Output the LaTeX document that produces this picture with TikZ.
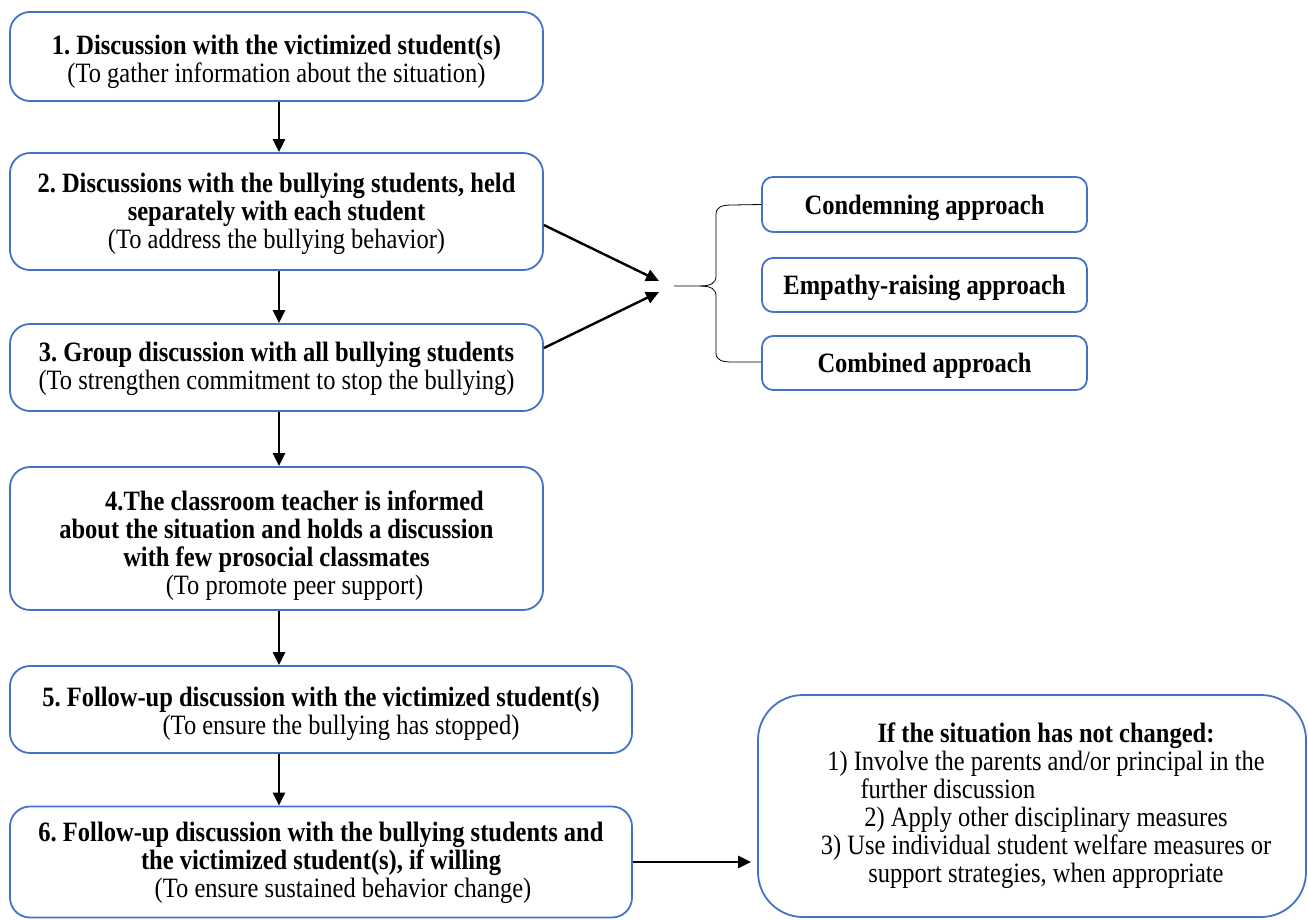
\documentclass[tikz,border=0pt]{standalone}
\usepackage{fontspec}
\setmainfont{LiberationSerif}[Extension=.ttf,UprightFont=*-Regular,BoldFont=*-Bold,ItalicFont=*-Italic,BoldItalicFont=*-BoldItalic,FakeStretch=0.875]
\usetikzlibrary{arrows.meta,calc}
\definecolor{boxblue}{RGB}{68,114,196}
\begin{document}
\frenchspacing
\begin{tikzpicture}[x=1pt,y=-1pt,
  stepbox/.style={draw=boxblue,line width=1.8pt,rounded corners=20pt,inner sep=0pt},
  steptext/.style={align=center,inner sep=0pt,font=\fontsize{28}{28}\selectfont},
  appbox/.style={draw=boxblue,line width=1.8pt,rounded corners=11pt,inner sep=0pt,minimum width=325pt},
  apptext/.style={inner sep=0pt,font=\fontsize{28}{28}\selectfont\bfseries},
  flow/.style={line width=2.4pt,-{Triangle[length=13pt,width=12pt]}},
  bracel/.style={line width=0.8pt}]
\useasboundingbox (0,0) rectangle (1308,919);
\node[stepbox,minimum width=533pt,minimum height=89pt] (b1) at (276.5,56.5) {};
\node[steptext] (t1) at ($(b1.center)+(0,5)$)
  {\textbf{1. Discussion with the victimized student(s)}\\(To gather information about the situation)};
\node[stepbox,minimum width=533pt,minimum height=117pt] (b2) at (276.5,211.5) {};
\node[steptext] (t2) at ($(b2.center)+(0,2.5)$)
  {\textbf{2. Discussions with the bullying students, held}\\\textbf{separately with each student}\\(To address the bullying behavior)};
\node[stepbox,minimum width=533pt,minimum height=87pt] (b3) at (276.5,367.5) {};
\node[steptext] (t3) at ($(b3.center)+(0,1)$)
  {\textbf{3. Group discussion with all bullying students}\\(To strengthen commitment to stop the bullying)};
\node[stepbox,minimum width=533pt,minimum height=143pt] (b4) at (276.5,538.5) {};
\node[steptext] (t4) at ($(b4.center)+(0,7)$)
  {\hspace*{36pt}\textbf{4.The classroom teacher is informed}\\\textbf{about the situation and holds a discussion}\\\textbf{with few prosocial classmates}\\\hspace*{36pt}(To promote peer support)};
\node[stepbox,minimum width=622pt,minimum height=87pt] (b5) at (321,709.5) {};
\node[steptext] (t5) at ($(b5.center)+(0,4)$)
  {\textbf{5. Follow-up discussion with the victimized student(s)}\\\hspace*{40pt}(To ensure the bullying has stopped)};
\node[stepbox,minimum width=622pt,minimum height=111pt] (b6) at (321,862) {};
\node[steptext] (t6) at ($(b6.center)+(0,1)$)
  {\textbf{6. Follow-up discussion with the bullying students and}\\\textbf{the victimized student(s), if willing}\\\hspace*{44pt}(To ensure sustained behavior change)};
\node[stepbox,rounded corners=45pt,minimum width=548pt,minimum height=222pt] (r) at (1032,806) {};
\node[steptext] (tr) at (r.center)
  {\hspace*{28pt}\textbf{If the situation has not changed:}\\\hspace*{28pt}1) Involve the parents and/or principal in the\\\hspace*{-168pt}further discussion\\\hspace*{28pt}2) Apply other disciplinary measures\\\hspace*{28pt}3) Use individual student welfare measures or\\\hspace*{28pt}support strategies, when appropriate};
\node[appbox,minimum height=55pt] (a1) at (924.5,204.5) {};
\node[apptext] (ta1) at ($(a1.center)+(0,3)$) {Condemning approach};
\node[appbox,minimum height=54pt] (a2) at (924.5,285) {};
\node[apptext] (ta2) at ($(a2.center)+(0,3)$) {Empathy-raising approach};
\node[appbox,minimum height=54pt] (a3) at (924.5,363) {};
\node[apptext] (ta3) at ($(a3.center)+(0,3)$) {Combined approach};
\coordinate (ax) at (279,0);
\coordinate (tipA) at (659,281);
\coordinate (tipB) at (659,292);
\coordinate (bmid) at (674,286);
\draw[flow] (b1.south -| ax) -- (b2.north -| ax);
\draw[flow] (b2.south -| ax) -- (b3.north -| ax);
\draw[flow] (b3.south -| ax) -- (b4.north -| ax);
\draw[flow] (b4.south -| ax) -- (b5.north -| ax);
\draw[flow] (b5.south -| ax) -- (b6.north -| ax);
\draw[flow] (b2.east |- 0,225) -- (tipA);
\draw[flow] (b3.east |- 0,348) -- (tipB);
\draw[flow,shorten >=6pt] (b6.east) -- (r.west |- b6.east);
\draw[bracel] (bmid) -- (700,286) .. controls (711,286) and (716,283) .. (716,276)
  -- (716,214) .. controls (716,207) and (722,205) .. (732,205) -- (a1.west);
\draw[bracel] (700,286) .. controls (711,286) and (716,289) .. (716,296)
  -- (716,353) .. controls (716,360) and (722,362) .. (732,362) -- (a3.west |- 0,362);
\end{tikzpicture}
\end{document}
